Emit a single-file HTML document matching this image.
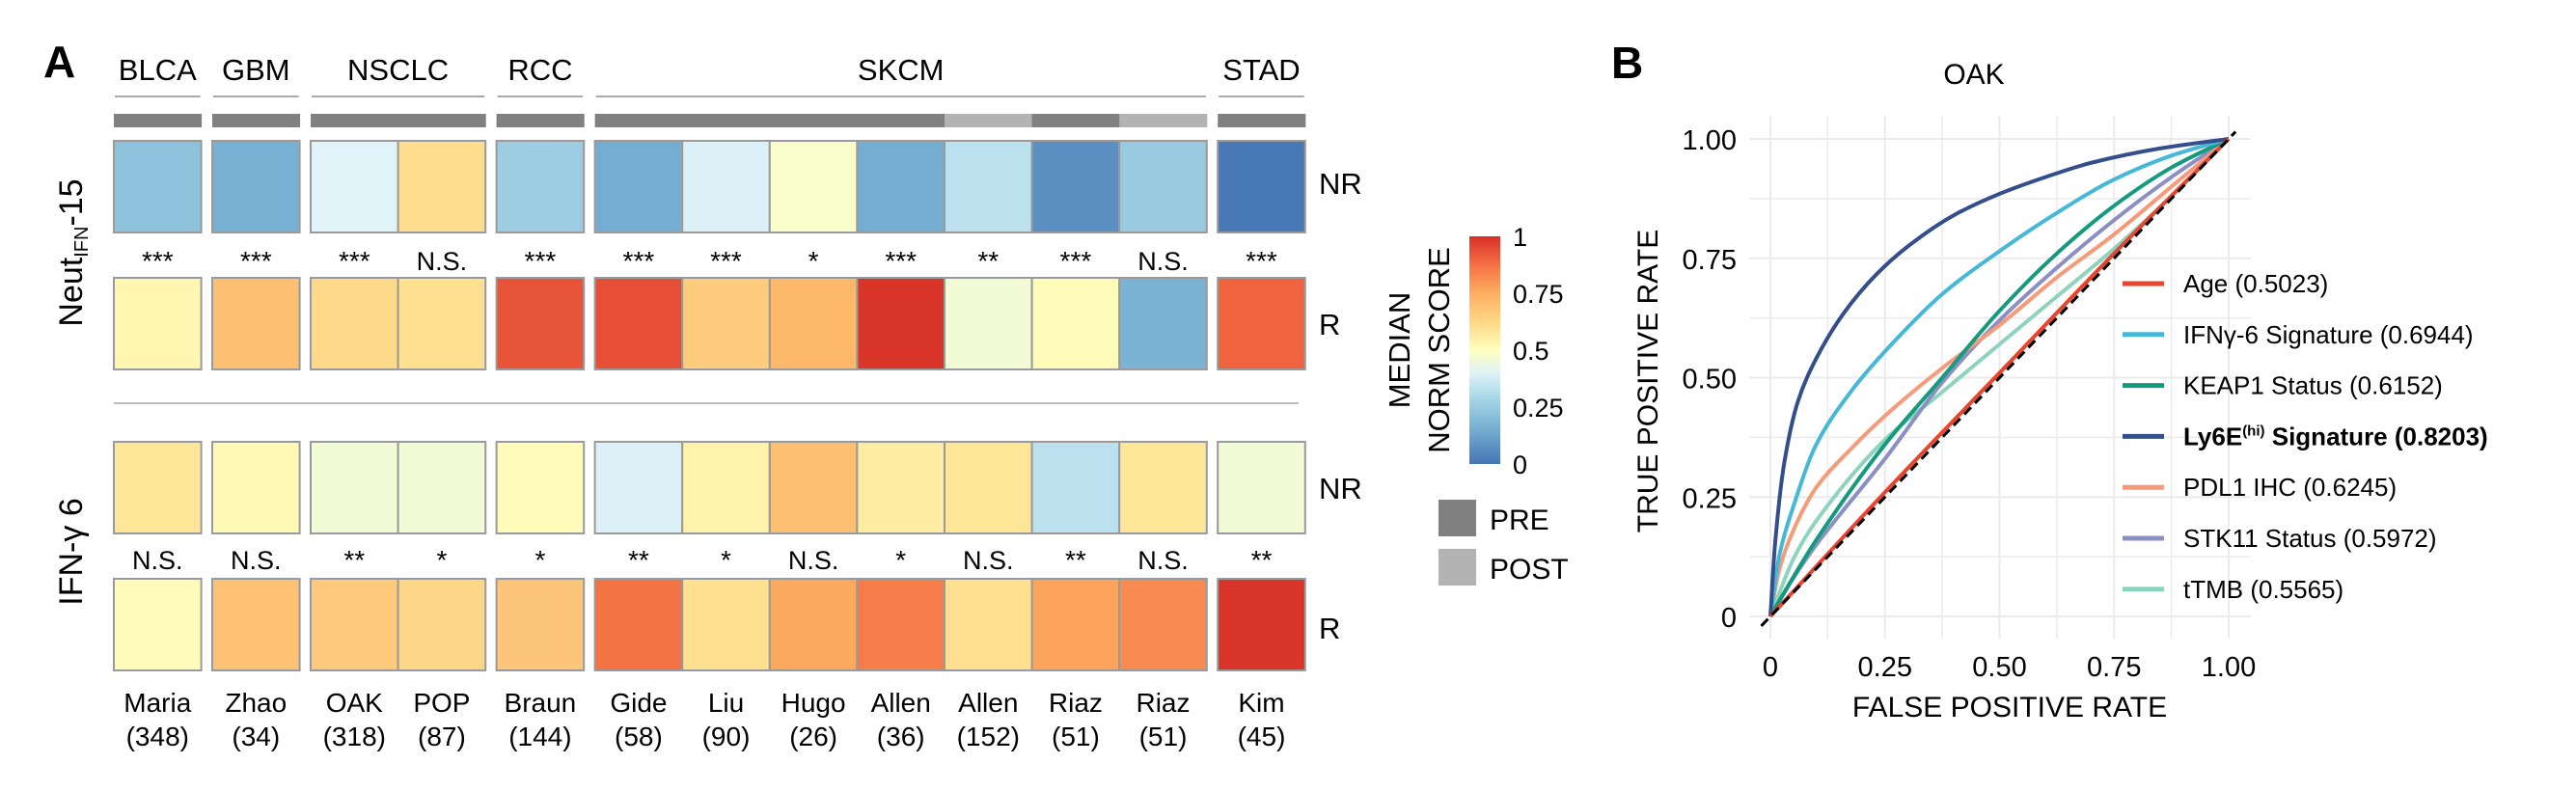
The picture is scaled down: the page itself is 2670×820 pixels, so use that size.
<!DOCTYPE html>
<html><head><meta charset="utf-8"><style>
html,body{margin:0;padding:0;background:#fff}
svg{display:block;font-family:"Liberation Sans",sans-serif}
</style></head><body>
<svg id="fig" width="2670" height="820" viewBox="0 0 2670 820" xmlns="http://www.w3.org/2000/svg">
<defs>
<linearGradient id="cbar" x1="0" y1="1" x2="0" y2="0">
<stop offset="0" stop-color="#4575b4"/><stop offset="0.15" stop-color="#74add1"/><stop offset="0.3" stop-color="#abd9e9"/><stop offset="0.4" stop-color="#e0f3f8"/><stop offset="0.5" stop-color="#ffffbf"/><stop offset="0.6" stop-color="#fee090"/><stop offset="0.75" stop-color="#fdae61"/><stop offset="0.88" stop-color="#f46d43"/><stop offset="1" stop-color="#d73027"/>
</linearGradient>
<clipPath id="plotclip"><rect x="1813" y="120" width="520" height="542"/></clipPath>
</defs>
<text x="45" y="80" font-size="46" font-weight="bold">A</text>
<text x="1670" y="81" font-size="46" font-weight="bold">B</text>
<g id="heat"></g>
<g id="roc"></g>
</svg>
<script>
const NS='http://www.w3.org/2000/svg';
function mk(tag,attrs,parent,txt){const e=document.createElementNS(NS,tag);for(const k in attrs)e.setAttribute(k,attrs[k]);if(txt!==undefined)e.textContent=txt;parent.appendChild(e);return e;}

// ---------- heatmap data ----------
const cancerGroups=['BLCA','GBM','NSCLC','RCC','SKCM','STAD'];
const groupSizes=[1,1,2,1,7,1];
const studies=['Maria','Zhao','OAK','POP','Braun','Gide','Liu','Hugo','Allen','Allen','Riaz','Riaz','Kim'];
const sampleSizes=['(348)','(34)','(318)','(87)','(144)','(58)','(90)','(26)','(36)','(152)','(51)','(51)','(45)'];
const timing=['PRE','PRE','PRE','PRE','PRE','PRE','PRE','PRE','PRE','POST','PRE','POST','PRE'];
const neutNR=[0.22,0.16,0.40,0.61,0.26,0.15,0.39,0.48,0.15,0.33,0.07,0.25,0.01];
const neutR=[0.53,0.70,0.62,0.60,0.93,0.94,0.66,0.72,0.99,0.46,0.51,0.17,0.90];
const neutSig=['***','***','***','N.S.','***','***','***','*','***','**','***','N.S.','***'];
const ifnNR=[0.58,0.52,0.46,0.46,0.51,0.39,0.54,0.70,0.56,0.58,0.33,0.58,0.46];
const ifnR=[0.51,0.69,0.67,0.63,0.68,0.87,0.60,0.76,0.85,0.60,0.77,0.82,0.99];
const ifnSig=['N.S.','N.S.','**','*','*','**','*','N.S.','*','N.S.','**','N.S.','**'];
const cbarTicks=['0','0.25','0.5','0.75','1'];

const stops=[[0,[69,117,180]],[0.15,[116,173,209]],[0.3,[171,217,233]],[0.4,[224,243,248]],[0.5,[255,255,191]],[0.6,[254,224,144]],[0.75,[253,174,97]],[0.88,[244,109,67]],[1,[215,48,39]]];
function colorOf(v){v=Math.max(0,Math.min(1,v));for(let i=1;i<stops.length;i++){if(v<=stops[i][0]){const a=stops[i-1],b=stops[i];const t=(v-a[0])/(b[0]-a[0]);const c=a[1].map((x,j)=>Math.round(x+(b[1][j]-x)*t));return `rgb(${c})`;}}return 'rgb(215,48,39)';}

const heat=document.getElementById('heat');
const X0=118,CW=90.6,GAP=11.4;
const colX=[],groupX=[];
let x=X0;
groupSizes.forEach((n,g)=>{groupX.push([x,x+n*CW]);for(let i=0;i<n;i++){colX.push(x+i*CW);}x+=n*CW+GAP;});

cancerGroups.forEach((g,i)=>{
  const [a,b]=groupX[i];
  const t=mk('text',{x:(a+b)/2,y:83,'font-size':31,'text-anchor':'middle'},heat,g);
  
  
  const l=mk('line',{x1:a+1,x2:b-1,y1:100,y2:100,stroke:'#aaa','stroke-width':2},heat);
  
  
});
studies.forEach((s,i)=>{
  const r=mk('rect',{x:colX[i],y:118,width:CW+0.5,height:14,fill:timing[i]==='PRE'?'#808080':'#b3b3b3'},heat);
  
  
});

function row(vals,y0,h,name){
  vals.forEach((v,i)=>{
    const r=mk('rect',{x:colX[i],y:y0,width:CW,height:h,fill:colorOf(v),stroke:'#9a9a9a','stroke-width':2},heat);
    
    
  });
}
function sigs(arr,y,name){
  arr.forEach((s,i)=>{
    const t=mk('text',{x:colX[i]+CW/2,y:y,'font-size':s==='N.S.'?27:28,'text-anchor':'middle'},heat,s);
    
    
  });
}
row(neutNR,146,95,'neut-nr');
sigs(neutSig,280,'neut');
row(neutR,288,95,'neut-r');
row(ifnNR,458,95,'ifn-nr');
sigs(ifnSig,590,'ifn');
row(ifnR,600,95,'ifn-r');

let sep=mk('line',{x1:118,x2:1346,y1:418,y2:418,stroke:'#bbb','stroke-width':2},heat);



studies.forEach((s,i)=>{
  const t=mk('text',{x:colX[i]+CW/2,y:738,'font-size':28,'text-anchor':'middle'},heat,s);
  
  
  const c=mk('text',{x:colX[i]+CW/2,y:773,'font-size':28,'text-anchor':'middle'},heat,sampleSizes[i]);
  
  
});
[['NR',201,'nr-label-neut'],['R',347,'r-label-neut'],['NR',517,'nr-label-ifn'],['R',662,'r-label-ifn']].forEach(d=>{
  const t=mk('text',{x:1367,y:d[1],'font-size':31},heat,d[0]);
  
  
});
let rt=mk('text',{x:0,y:0,'font-size':34,'text-anchor':'middle',transform:'translate(85,262) rotate(-90)'},heat);


rt.innerHTML='Neut<tspan font-size="20" dy="6">IFN</tspan><tspan dy="-6">-15</tspan>';
let rt2=mk('text',{x:0,y:0,'font-size':34,'text-anchor':'middle',transform:'translate(85,572) rotate(-90)'},heat,'IFN-γ 6');



let cb=mk('rect',{x:1523,y:245,width:32,height:236,fill:'url(#cbar)'},heat);


cbarTicks.forEach((t,i)=>{
  const y=481-(+t)*236;
  const e=mk('text',{x:1568,y:y+10,'font-size':27},heat,t);
  
  
});
let m1=mk('text',{x:0,y:0,'font-size':31,'text-anchor':'middle',transform:'translate(1461,363) rotate(-90)'},heat,'MEDIAN');


let m2=mk('text',{x:0,y:0,'font-size':31,'text-anchor':'middle',transform:'translate(1502,363) rotate(-90)'},heat,'NORM SCORE');


[['PRE','#808080',518],['POST','#b3b3b3',569]].forEach(d=>{
  const r=mk('rect',{x:1491,y:d[2],width:39,height:38,fill:d[1]},heat);
  
  
  const t=mk('text',{x:1544,y:d[2]+31,'font-size':30},heat,d[0]);
  
  
});

// ---------- ROC data ----------
const seriesNames=['Age (0.5023)','IFNγ-6 Signature (0.6944)','KEAP1 Status (0.6152)','Ly6E Signature (0.8203)','PDL1 IHC (0.6245)','STK11 Status (0.5972)','tTMB (0.5565)'];
const seriesColors=['#e8452f','#45b8d8','#149a7c','#344e8c','#f79a7a','#8a90c4','#8ed3be'];
const ageFpr=[0,0.25,0.5,0.75,1];
const ageTpr=[0,0.26,0.51,0.76,1];
const ifnFpr=[0,0.02,0.05,0.1,0.175,0.25,0.375,0.5,0.625,0.75,0.875,1];
const ifnTpr=[0,0.13,0.23,0.36,0.47,0.555,0.675,0.765,0.845,0.915,0.965,1];
const keapFpr=[0,0.03,0.1,0.25,0.375,0.5,0.625,0.75,0.875,1];
const keapTpr=[0,0.05,0.16,0.36,0.5,0.64,0.76,0.86,0.94,1];
const ly6eFpr=[0,0.01,0.03,0.06,0.1,0.16,0.23,0.3,0.4,0.5,0.6,0.7,0.85,1];
const ly6eTpr=[0,0.15,0.32,0.45,0.54,0.635,0.715,0.775,0.84,0.885,0.92,0.95,0.98,1];
const pdl1Fpr=[0,0.02,0.05,0.1,0.175,0.25,0.375,0.5,0.625,0.75,0.875,1];
const pdl1Tpr=[0,0.1,0.18,0.27,0.35,0.42,0.52,0.61,0.71,0.8,0.9,1];
const stkFpr=[0,0.05,0.1,0.25,0.375,0.5,0.625,0.75,0.875,1];
const stkTpr=[0,0.08,0.15,0.33,0.49,0.62,0.73,0.83,0.92,1];
const tmbFpr=[0,0.05,0.1,0.25,0.375,0.5,0.625,0.75,0.875,1];
const tmbTpr=[0,0.12,0.2,0.37,0.47,0.57,0.67,0.77,0.88,1];
const tickValues=[0,0.25,0.5,0.75,1];
const tickLabels=['0','0.25','0.50','0.75','1.00'];

const roc=document.getElementById('roc');
const sx=v=>1835+v*475, sy=v=>639-v*495;
for(let i=0;i<=8;i++){
  const v=i/8;
  const gx=mk('line',{x1:sx(v),x2:sx(v),y1:120,y2:662,stroke:'#ebebeb','stroke-width':i%2?1.5:2},roc);
  
  
  const gy=mk('line',{x1:1813,x2:2333,y1:sy(v),y2:sy(v),stroke:'#ebebeb','stroke-width':i%2?1.5:2},roc);
  
  
}
tickValues.forEach((v,i)=>{
  const t=mk('text',{x:1800,y:sy(v)+11,'font-size':29,'text-anchor':'end'},roc,tickLabels[i]);
  
  
  const u=mk('text',{x:sx(v),y:701,'font-size':29,'text-anchor':'middle'},roc,tickLabels[i]);
  
  
});
let xt=mk('text',{x:2083,y:743,'font-size':30,'text-anchor':'middle'},roc,'FALSE POSITIVE RATE');


let yt=mk('text',{x:0,y:0,'font-size':30,'text-anchor':'middle',transform:'translate(1718,395) rotate(-90)'},roc,'TRUE POSITIVE RATE');


let ot=mk('text',{x:2046,y:87,'font-size':30,'text-anchor':'middle'},roc,'OAK');



function smoothPath(xs,ys){
  const n=xs.length,d=[],m=[];
  for(let i=0;i<n-1;i++)d.push((ys[i+1]-ys[i])/(xs[i+1]-xs[i]));
  m[0]=d[0];m[n-1]=d[n-2];
  for(let i=1;i<n-1;i++){m[i]=(d[i-1]*d[i]<=0)?0:2/(1/d[i-1]+1/d[i]);}
  let path='M'+sx(xs[0])+','+sy(ys[0]);
  for(let i=0;i<n-1;i++){
    const h=xs[i+1]-xs[i];
    const c1x=xs[i]+h/3,c1y=ys[i]+m[i]*h/3,c2x=xs[i+1]-h/3,c2y=ys[i+1]-m[i+1]*h/3;
    path+=` C${sx(c1x)},${sy(c1y)} ${sx(c2x)},${sy(c2y)} ${sx(xs[i+1])},${sy(ys[i+1])}`;
  }
  return path;
}
const seriesData=[[ageFpr,ageTpr],[ifnFpr,ifnTpr],[keapFpr,keapTpr],[ly6eFpr,ly6eTpr],[pdl1Fpr,pdl1Tpr],[stkFpr,stkTpr],[tmbFpr,tmbTpr]];
const curveG=mk('g',{'clip-path':'url(#plotclip)'},roc);
const drawOrder=[6,5,4,2,1,3,0];
drawOrder.forEach(i=>{
  const p=mk('path',{d:smoothPath(seriesData[i][0],seriesData[i][1]),fill:'none',stroke:seriesColors[i],'stroke-width':4,'stroke-linejoin':'round'},curveG);
  
  
});
let dg=mk('line',{x1:sx(-0.02),y1:sy(-0.02),x2:sx(1.015),y2:sy(1.015),stroke:'#000','stroke-width':3,'stroke-dasharray':'10,6'},roc);



seriesNames.forEach((n,i)=>{
  const y=294+i*52.8;
  const l=mk('line',{x1:2200,x2:2243,y1:y,y2:y,stroke:seriesColors[i],'stroke-width':5},roc);
  
  
  const t=mk('text',{x:2263,y:y+9,'font-size':26},roc);
  
  
  if(i===3){t.setAttribute('font-weight','bold');t.innerHTML='Ly6E<tspan font-size="15" dy="-10">(hi)</tspan><tspan dy="10"> Signature (0.8203)</tspan>';}
  else t.textContent=n;
});
</script>
</body></html>
